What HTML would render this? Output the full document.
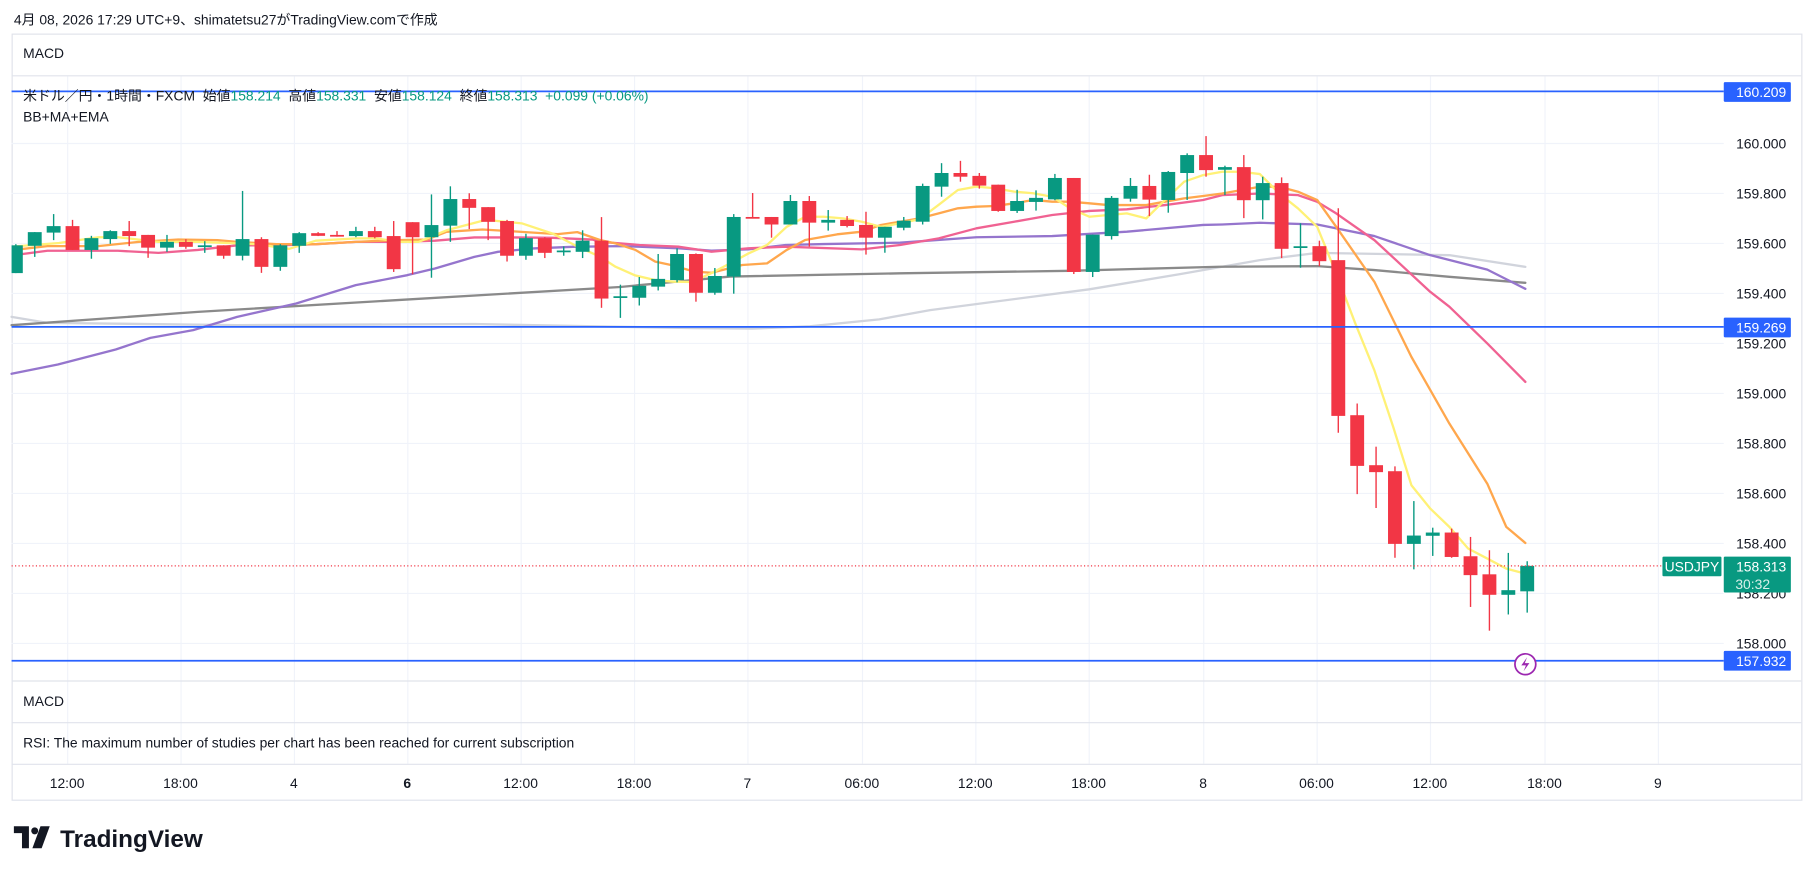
<!DOCTYPE html>
<html><head><meta charset="utf-8"><style>
html,body{margin:0;padding:0;background:#fff;width:1814px;height:876px;overflow:hidden}
svg{display:block}
text{font-family:"Liberation Sans","Noto Sans CJK JP",sans-serif}
</style></head><body>
<svg id="s" width="1814" height="876" viewBox="0 0 1568 757" preserveAspectRatio="none" xmlns="http://www.w3.org/2000/svg">
<rect x="0" y="0" width="1568" height="757" fill="#fff"/>
<text x="12" y="21" font-size="12" fill="#131722">4月 08, 2026 17:29 UTC+9、shimatetsu27がTradingView.comで作成</text>
<rect x="10.5" y="29.5" width="1547" height="662" fill="#fff" stroke="#e0e3eb"/>
<g id="grid" stroke="#f0f3fa" stroke-width="1"></g>
<line x1="10" y1="65.5" x2="1557" y2="65.5" stroke="#e0e3eb"/>
<line x1="10" y1="588.5" x2="1557" y2="588.5" stroke="#e0e3eb"/>
<line x1="10" y1="624.5" x2="1557" y2="624.5" stroke="#e0e3eb"/>
<line x1="10" y1="660.5" x2="1557" y2="660.5" stroke="#e0e3eb"/>
<text x="20" y="50" font-size="12" fill="#131722">MACD</text>
<text x="20" y="610" font-size="12" fill="#131722">MACD</text>
<text x="20" y="646" font-size="12" fill="#131722">RSI: The maximum number of studies per chart has been reached for current subscription</text>
<g id="lines" fill="none" stroke-linejoin="round" stroke-linecap="round"></g>
<g id="candles"></g>
<line x1="10" y1="79" x2="1490" y2="79" stroke="#2962ff" stroke-width="1.5"/>
<line x1="10" y1="282.5" x2="1490" y2="282.5" stroke="#2962ff" stroke-width="1.5"/>
<line x1="10" y1="571" x2="1490" y2="571" stroke="#2962ff" stroke-width="1.5"/>
<line x1="10" y1="489" x2="1437" y2="489" stroke="#f23645" stroke-width="1" stroke-dasharray="1,2"/>
<text x="20" y="87" font-size="12" fill="#131722">米ドル／円・1時間・FXCM&#160;&#160;始値<tspan fill="#089981">158.214</tspan>&#160;&#160;高値<tspan fill="#089981">158.331</tspan>&#160;&#160;安値<tspan fill="#089981">158.124</tspan>&#160;&#160;終値<tspan fill="#089981">158.313&#160;&#160;+0.099&#160;(+0.06%)</tspan></text>
<text x="20" y="105" font-size="12" fill="#131722">BB+MA+EMA</text>
<g id="axis" font-size="12" fill="#131722"></g>
<rect x="1490" y="71" width="58" height="17" rx="1" fill="#2962ff"/>
<text x="1544" y="84" font-size="12" fill="#fff" text-anchor="end">160.209</text>
<rect x="1490" y="274.5" width="58" height="17" rx="1" fill="#2962ff"/>
<text x="1544" y="287.5" font-size="12" fill="#fff" text-anchor="end">159.269</text>
<rect x="1490" y="562.5" width="58" height="17" rx="1" fill="#2962ff"/>
<text x="1544" y="575.5" font-size="12" fill="#fff" text-anchor="end">157.932</text>
<rect x="1437" y="481" width="51" height="17" rx="1" fill="#089981"/>
<text x="1462.5" y="494" font-size="12" fill="#fff" text-anchor="middle">USDJPY</text>
<rect x="1490" y="481" width="58" height="31" rx="1" fill="#089981"/>
<text x="1544" y="494" font-size="12" fill="#fff" text-anchor="end">158.313</text>
<text x="1500" y="509" font-size="12" fill="#d8f0ea">30:32</text>
<circle cx="1318.5" cy="574" r="9" fill="#fff" stroke="#9c27b0" stroke-width="1.5"/>
<path d="M1320 568 L1315 575 L1319 575 L1317 580 L1322 573 L1318 573 Z" fill="#9c27b0"/>
<g id="time" font-size="12" fill="#131722" text-anchor="middle"></g>
<path d="M12 714 H25 V733 H19 V720 H12 Z" fill="#131722"/>
<circle cx="30" cy="718" r="3" fill="#131722"/>
<path d="M35 714 H43 L36 733 H28 Z" fill="#131722"/>
<text x="52" y="732" font-size="21" font-weight="bold" fill="#131722">TradingView</text>
</svg>
<script>
const NS="http://www.w3.org/2000/svg";
function el(p,t,a,txt){const e=document.createElementNS(NS,t);for(const k in a)e.setAttribute(k,a[k]);if(txt!==undefined)e.textContent=txt;document.getElementById(p).appendChild(e);return e;}
const tx=[58,156,254,352,450,548,646,745,843,941,1040,1138,1236,1335,1433];
const tl=["12:00","18:00","4","6","12:00","18:00","7","06:00","12:00","18:00","8","06:00","12:00","18:00","9"];
tx.forEach(x=>el("grid","line",{x1:x+.5,y1:66,x2:x+.5,y2:588}));
tx.forEach(x=>el("grid","line",{x1:x+.5,y1:589,x2:x+.5,y2:660}));
const pl=["160.000","159.800","159.600","159.400","159.200","159.000","158.800","158.600","158.400","158.200","158.000"];
pl.forEach((p,k)=>{const y=124+k*43.2;el("grid","line",{x1:10,y1:y,x2:1490,y2:y});
 if(p!=="158.200")el("axis","text",{x:1544,y:y+4.5,"text-anchor":"end"},p);});
el("axis","text",{x:1544,y:124+9*43.2+4.5,"text-anchor":"end"},"158.200");
tx.forEach((x,i)=>el("time","text",{x:x,y:681,"font-weight":tl[i]==="6"?"bold":"normal"},tl[i]));
function poly(pts,c,w,o){el("lines","polyline",{points:pts.map(p=>p.join(",")).join(" "),stroke:c,"stroke-width":w,opacity:o||1});}
poly([[10,273.8],[41,279],[205,281],[410,280],[536,282.4],[600,283.5],[650,284],[700,282],[760,276],[804,268],[941.6,250],[1020,236.9],[1089,224.8],[1138.6,218.5],[1252.8,220.5],[1318.5,230.6]],"#d1d4dc",2);
poly([[10,281],[171,269.5],[342,259.4],[536,248],[631,239],[778,236.2],[925,234],[1054,230.5],[1138.6,230],[1188,233.4],[1252.8,239.2],[1318.5,244.4]],"#8a8a8a",2);
poly([[10,323],[50,315],[100,302],[130,292],[167,285.3],[205,273.8],[256,262.3],[307.5,246.4],[352,237.8],[376,232],[410,222],[430.5,217.6],[461,214.7],[495,213.3],[536,212.7],[552.8,213.2],[587,214.6],[615,216.6],[647,215.5],[679,211.7],[712,210.9],[778,209.7],[844,205],[909.5,204],[974,200.2],[1040,194.4],[1056.5,194],[1089,192.5],[1138.6,194],[1188,204],[1236.3,220.5],[1285.6,233],[1318.5,249.6]],"#9575cd",2);
poly([[12,220.5],[41,216.7],[102,216.7],[137,218.5],[171,216],[205,212],[239,212],[273,211],[307.5,209],[342,209],[376,208],[410,205.2],[444,205.2],[478,205.5],[512,207],[518.6,208.9],[552.8,211.7],[587,213.2],[615,217.5],[647,214.6],[679,213.2],[745,215.5],[778,211.7],[811.4,206],[844,197.3],[876.6,191.6],[909.5,185.8],[941.6,182.3],[974,180.9],[1007,177.2],[1040,172.8],[1056.5,168.6],[1089,167.2],[1122,168.6],[1138.6,174.4],[1155,184.4],[1188,207.5],[1236.3,252.2],[1252.8,265],[1285.6,296.8],[1318.5,330]],"#f06292",2);
poly([[12,216],[41,212.7],[85,212.7],[120,209],[154,207],[188,207.5],[205,209],[239,211],[273,211],[307.5,209],[342,207.5],[369,207],[386,200.3],[417,198.3],[437,199.5],[461,201],[482,202.3],[499,200.6],[518.6,207.4],[532,210.3],[549.3,216],[566.4,226.1],[580,229],[600.6,234.8],[615,235.7],[641.6,229],[663,227.6],[680,216],[696,207.4],[723.6,202.5],[745,200.2],[761.5,194.4],[778,191.6],[794.7,188.7],[811.4,184.4],[828,180],[844,178.6],[860,178],[876.6,175.7],[893,172.8],[909.5,174.3],[925,174.3],[941.6,175.7],[958,177.2],[990.8,177.2],[1007,174.3],[1023.6,171.4],[1040,169.4],[1056.5,167.2],[1089,161.4],[1105.8,161.4],[1122,165.7],[1138.6,172.9],[1155,196],[1188,243.5],[1220,308.4],[1252.8,366],[1285.6,418],[1302,455.3],[1318.5,469.2]],"#ffa74d",2);
poly([[12,213],[51,210],[85,205],[102,205],[137,209],[171,209],[222,211],[250,215],[273,208],[308,206],[325,206],[345,209],[362,209],[386,199],[420,190],[451,193],[478,202],[499,213],[518.6,221.8],[532,230.5],[549,238],[566,242],[582,243.4],[598.5,243.7],[615,236],[631,227.6],[647,219],[663,211.7],[680,196],[696,187.3],[712,187.3],[728.7,188.7],[745,191.6],[761.5,196],[778,193],[794.7,189.5],[811.4,177],[828,164.2],[844,161.3],[860,162.7],[876.6,165.6],[893,167],[909.5,170],[925,180],[941.6,187.3],[958,185.8],[974,184.4],[990.8,188.7],[1007,172.8],[1023.6,157],[1040,151.3],[1056.5,148.4],[1073,148.4],[1089,150.4],[1105.8,167.2],[1122,180.1],[1138.6,196],[1155,236.3],[1171.5,279.5],[1188,320],[1204.3,369],[1220,419.3],[1236.3,439.5],[1252.8,455.3],[1269,474],[1285.6,482.7],[1302,491.4],[1318.5,495.7]],"#fff176",2);
const C=[[212,236,211,236,1],[200.6,212.4,200.6,222,1],[195.4,201,185,207.5,1],[195.4,216,190,216,0],[205.8,216,203.8,223.6,1],[199.7,206.6,199,210.7,1],[199.7,204,191,212.7,0],[203,214,203,222.8,0],[209,214,203,217.6,1],[209,213.3,206.7,215,0],[212,213,208.4,218.5,1],[212,221,212,223.6,0],[206.6,221,165,225,1],[206.6,230.6,205,235.8,0],[212,230.6,211,234,1],[201.5,212.4,200.6,218.5,1],[201.5,203.8,200.6,204,0],[203,204.2,199.7,204.5,0],[199.7,204,196,205,1],[199.7,205,196,206,0],[204,232.6,191,235,0],[192,205,192,237,0],[194.5,205,168,240,1],[172,195,161,209,1],[172,179.6,167,198,0],[179,191.7,179,207.5,0],[191,221,190,226,0],[205.8,221,202,224.5,1],[205.8,218.5,205,223,0],[216.5,218,213,221,1],[208,217.6,199,223,1],[208,258,187.6,266,0],[256,257.5,246,274.7,1],[247,257.3,239.4,264,1],[241,247.7,219.5,251,1],[219.5,242,214.6,244,1],[219.5,253,219,260.7,0],[238.5,253,231.6,254.7,1],[187.5,239,185,253.8,1],[187.5,188.5,166.8,188.5,0],[187.5,194,187.5,205.4,0],[173.7,194,168.5,194,1],[173.7,192.4,169.4,213,0],[190,192.4,181.5,199.3,1],[190,195.3,186.7,196.5,0],[194.4,205.4,183,220,0],[196,205.4,196,218.4,1],[190.7,196.8,187.5,199,1],[160.7,191.6,158.7,194,1],[149.5,161.3,141,170,1],[149.5,152.7,139,157,0],[152,160.4,149.5,163,0],[159.6,182.3,159.6,183,0],[173.7,182.3,164,184,1],[171,174.5,164.5,182,1],[153.8,172.3,150.3,173,1],[153.8,235,153.8,236.8,0],[202.8,235,202.8,239.4,1],[171,204,169.4,207,1],[160.7,171.7,153.8,174.3,1],[160.7,172.5,151,186.7,0],[148.6,172.8,147.8,183.8,1],[134,149.5,132.5,172.8,1],[134,147,117.6,152.7,0],[144.4,146.7,143.2,168.6,1],[144.4,173,134,188.5,0],[158.2,173,152.7,189.6,1],[158.2,215,153.3,223,0],[212.8,214.3,193,231.4,1],[212.7,225.7,208,230,0],[224.8,359.4,180,374,0],[358.8,402.6,348.7,427,0],[402,408,386,439,0],[407.2,470,403,482,0],[462.8,470,433,492,1],[460.2,463,456,480.4,1],[460.2,481.3,456.8,482,0],[480.7,497,464,524.5,0],[496.3,514,475.5,545,0],[510,514,477.8,531,1],[489,511,485,529.4,1]];
C.forEach((c,i)=>{const x=13.7+16.33*i;const col=c[4]?"#089981":"#f23645";
 el("candles","line",{x1:x,y1:c[2],x2:x,y2:c[3],stroke:col,"stroke-width":1.2});
 const h=Math.max(c[1]-c[0],1.5);const x0=Math.max(x-6,10);
 el("candles","rect",{x:x0,y:c[0],width:x+6-x0,height:h,fill:col});});
</script>
</body></html>
